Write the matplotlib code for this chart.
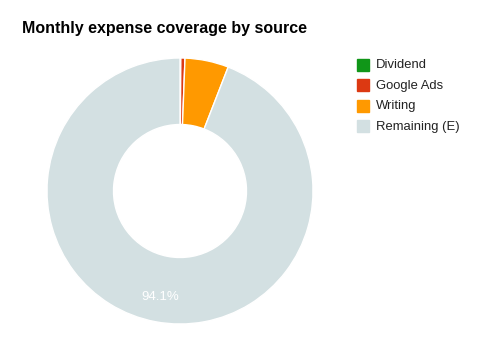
import numpy as np
import matplotlib.pyplot as plt
from matplotlib.patches import Rectangle

plt.rcParams["font.family"] = ["Liberation Sans", "DejaVu Sans"]

sources = ["Dividend", "Google Ads", "Writing", "Remaining (E)"]
shares = [0.1, 0.5, 5.3, 94.1]
colors = ["#109618", "#dc3912", "#ff9900", "#d3e0e2"]

W, H = 489, 358
fig = plt.figure(figsize=(W / 100, H / 100), dpi=100)

# donut centre (180, 191) px, radius 133 px
cx, cy, r = 180, 191, 133
ax = fig.add_axes([(cx - r) / W, (H - cy - r) / H, 2 * r / W, 2 * r / H])

wedges, _ = ax.pie(
    shares,
    colors=colors,
    startangle=90,
    counterclock=False,
    radius=1,
    wedgeprops=dict(width=0.5, edgecolor="white", linewidth=1),
)
ax.set_xlim(-1, 1)
ax.set_ylim(-1, 1)
ax.axis("off")

# label only the big slice, like the original
w = wedges[-1]
mid = np.deg2rad((w.theta1 + w.theta2) / 2)
ax.text(0.81 * np.cos(mid), 0.81 * np.sin(mid), f"{shares[-1]:.1f}%",
        color="white", fontsize=9.5, ha="center", va="center")

fig.text(22 / W, 1 - 29 / H, "Monthly expense coverage by source",
         fontsize=11.5, fontweight="bold", ha="left", va="center")

# legend
for i, (name, col) in enumerate(zip(sources, colors)):
    y = 64.5 + i * 20.5
    fig.patches.append(Rectangle((357 / W, 1 - (y + 6) / H), 12 / W, 12 / H,
                                 transform=fig.transFigure, color=col))
    fig.text(375.5 / W, 1 - (y + 1) / H, name, fontsize=9.4, ha="left",
             va="center", color="#222222")

fig.savefig("out.png", dpi=100)
